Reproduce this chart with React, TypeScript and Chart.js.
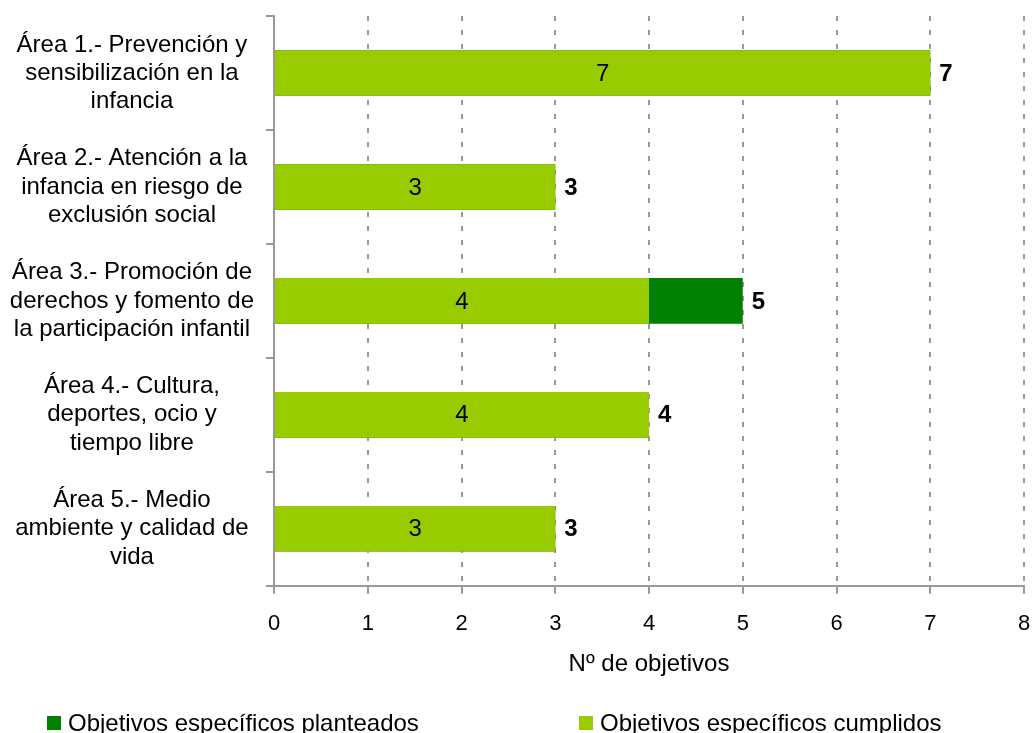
import React, { useEffect, useRef } from "react";
import { Chart, registerables } from "chart.js";

Chart.register(...registerables);

// ---- Data ----
const categories: string[][] = [
  ["Área 1.- Prevención y", "sensibilización en la", "infancia"],
  ["Área 2.- Atención a la", "infancia en riesgo de", "exclusión social"],
  ["Área 3.- Promoción de", "derechos y fomento de", "la participación infantil"],
  ["Área 4.- Cultura,", "deportes, ocio y", "tiempo libre"],
  ["Área 5.- Medio", "ambiente y calidad de", "vida"],
];
const planteados: number[] = [7, 3, 5, 4, 3];
const cumplidos: number[] = [7, 3, 4, 4, 3];
const seriesNames: string[] = [
  "Objetivos específicos planteados",
  "Objetivos específicos cumplidos",
];
const xAxisTitle = "Nº de objetivos";
const xMin = 0;
const xMax = 8;

// ---- Styles ----
const DARK_GREEN = "#008000";
const LIGHT_GREEN = "#99CC00";
const GRID = "#999999";
const FONT = "'Liberation Sans', Arial, sans-serif";

const labelPlugin = {
  id: "barLabels",
  afterDatasetsDraw(chart: any) {
    const ctx = chart.ctx;
    ctx.save();
    const m1 = chart.getDatasetMeta(1);
    ctx.fillStyle = "#000";
    ctx.font = `24px ${FONT}`;
    ctx.textAlign = "center";
    ctx.textBaseline = "middle";
    m1.data.forEach((bar: any, i: number) => {
      const cx = (bar.x + bar.base) / 2;
      ctx.fillText(String(cumplidos[i]), cx, bar.y + 1);
    });
    const m0 = chart.getDatasetMeta(0);
    ctx.font = `bold 24px ${FONT}`;
    ctx.textAlign = "left";
    m0.data.forEach((bar: any, i: number) => {
      ctx.fillText(String(planteados[i]), bar.x + 9, bar.y + 1);
    });
    ctx.restore();
  },
};

const legendPlugin = {
  id: "customLegend",
  afterDraw(chart: any) {
    const ctx = chart.ctx;
    const items = [
      { text: seriesNames[0], color: DARK_GREEN, x: 47 },
      { text: seriesNames[1], color: LIGHT_GREEN, x: 579 },
    ];
    ctx.save();
    ctx.font = `24px ${FONT}`;
    ctx.textAlign = "left";
    ctx.textBaseline = "alphabetic";
    const boxTop = chart.height - 17;
    items.forEach((it) => {
      ctx.fillStyle = it.color;
      ctx.fillRect(it.x, boxTop, 14, 14);
      ctx.fillStyle = "#000";
      ctx.fillText(it.text, it.x + 21, chart.height - 2);
    });
    ctx.restore();
  },
};

export default function App() {
  const canvasRef = useRef<HTMLCanvasElement | null>(null);

  useEffect(() => {
    document.body.style.margin = "0";
    const canvas = canvasRef.current;
    if (!canvas) return;
    const chart = new Chart(canvas, {
      type: "bar",
      data: {
        labels: categories,
        datasets: [
          {
            label: seriesNames[0],
            data: planteados,
            backgroundColor: DARK_GREEN,
            borderWidth: 0,
            grouped: false,
            order: 2,
            barPercentage: 0.4,
            categoryPercentage: 1,
          },
          {
            label: seriesNames[1],
            data: cumplidos,
            backgroundColor: LIGHT_GREEN,
            borderWidth: 0,
            grouped: false,
            order: 1,
            barPercentage: 0.4,
            categoryPercentage: 1,
          },
        ] as any,
      },
      options: {
        indexAxis: "y",
        responsive: false,
        animation: false,
        layout: { padding: { top: 16, right: 10, left: 0, bottom: 54 } },
        plugins: {
          legend: { display: false },
          tooltip: { enabled: false },
        },
        scales: {
          x: {
            type: "linear",
            min: xMin,
            max: xMax,
            ticks: {
              stepSize: 1,
              color: "#000",
              font: { size: 22, family: FONT },
              padding: 17,
            },
            grid: {
              color: GRID,
              lineWidth: 2,
              drawTicks: true,
              tickLength: 8,
              tickColor: GRID,
              tickWidth: 2,
            },
            border: { display: true, color: GRID, width: 2, dash: [5, 9] },
            title: {
              display: true,
              text: xAxisTitle,
              color: "#000",
              font: { size: 24, family: FONT },
              padding: { top: -4, bottom: 0 },
            },
            afterFit: (scale: any) => {
              scale.paddingLeft = 0;
              scale.paddingRight = 0;
            },
          },
          y: {
            type: "category",
            ticks: {
              color: "#000",
              font: { size: 24, family: FONT, lineHeight: 1.17 },
              padding: 12,
              crossAlign: "center",
              autoSkip: false,
            },
            grid: {
              drawOnChartArea: false,
              drawTicks: true,
              tickLength: 8,
              color: GRID,
              lineWidth: 2,
              offset: true,
            },
            border: { display: true, color: GRID, width: 2 },
            afterFit: (scale: any) => {
              scale.width = 274;
              scale.paddingTop = 0;
              scale.paddingBottom = 0;
            },
          },
        },
      } as any,
      plugins: [labelPlugin, legendPlugin],
    });
    return () => chart.destroy();
  }, []);

  return (
    <canvas
      ref={canvasRef}
      width={1034}
      height={733}
      style={{ display: "block", width: 1034, height: 733 }}
    />
  );
}
